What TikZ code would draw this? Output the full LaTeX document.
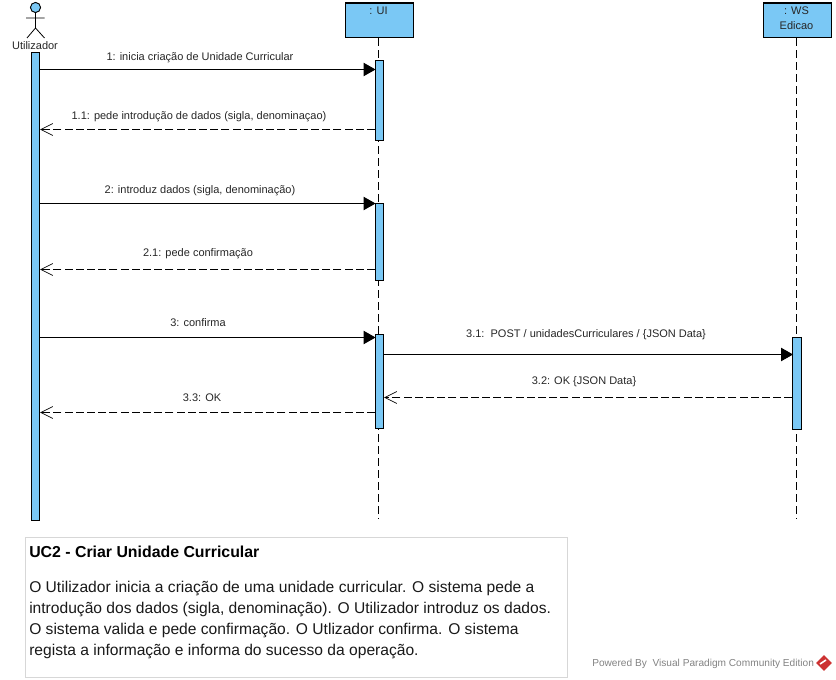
\documentclass[tikz,border=0pt]{standalone}
\usepackage{fontspec}
\setmainfont{Liberation Sans}
\usetikzlibrary{arrows.meta,shapes.geometric}
\definecolor{lifeblue}{RGB}{122,200,245}
\definecolor{panelgrey}{RGB}{215,215,215}
\definecolor{footgrey}{RGB}{130,130,130}
\definecolor{footred}{RGB}{205,50,50}
\tikzset{
  objbox/.style={draw, fill=lifeblue, line width=0.8pt, minimum width=51pt, minimum height=26pt, inner sep=0pt, anchor=north west},
  actbar/.style={draw, fill=lifeblue, line width=0.7pt, minimum width=6.2pt, inner sep=0pt, anchor=north},
  lifeline/.style={line width=0.7pt, dash pattern=on 6pt off 3pt},
  callmsg/.style={line width=0.75pt, -{Triangle[length=9pt,width=10pt]}, shorten >=-0.5pt},
  backmsg/.style={line width=0.7pt, dash pattern=on 6pt off 2.4pt, -{Straight Barb[length=9pt,width=9pt,line width=0.5pt]}},
  msglabel/.style={font=\fontsize{8.25}{10}\selectfont, text=black!85, inner sep=0pt},
  bodyline/.style={font=\fontsize{11.7}{14}\selectfont, anchor=west, inner sep=0pt, text=black!90}
}
\begin{document}
\begin{tikzpicture}[x=0.75pt, y=-0.75pt]
    \useasboundingbox (0,0) rectangle (836,680);
    % lifelines
    \node (ui) [objbox] at (345,2.5) {};
    \node (ws) [objbox] at (763,2.5) {};
    \coordinate (uiend) at (378.5,519);
    \coordinate (wsend) at (796.5,519);
    \draw[lifeline] (ui.south -| uiend) -- (uiend);
    \draw[lifeline] (ws.south -| wsend) -- (wsend);
    \node (uitxt) [msglabel] at (378.5,10.5) {: UI};
    \node (wstxt) [msglabel] at (796.5,10.5) {: WS};
    \node (wstxt2) [msglabel] at (796.5,25.5) {Edicao};
    % actor
    \node (head) [circle, draw, fill=lifeblue, line width=0.7pt, minimum size=7.6pt, inner sep=0pt] at (35.5,7.5) {};
    \coordinate (hip) at (35.5,28);
    \coordinate (arml) at (26,18);
    \coordinate (armr) at (44.5,18);
    \coordinate (legl) at (27,38);
    \coordinate (legr) at (44.5,38);
    \draw[line width=0.6pt] (head.south) -- (hip) (arml) -- (armr) (legl) -- (hip) -- (legr);
    \node (actor) [msglabel] at (35,45.5) {Utilizador};
    % activation bars
    \node (userbar) [actbar, minimum height=350.5pt] at (35.5,52.5) {};
    \node (uibar1) [actbar, minimum height=60pt] at (379.5,60.5) {};
    \node (uibar2) [actbar, minimum height=57.5pt] at (379.5,203.5) {};
    \node (uibar3) [actbar, minimum height=70.5pt] at (379.5,334.5) {};
    \node (wsbar) [actbar, minimum height=69pt] at (797,337.5) {};
    % messages
    \coordinate (m1) at (0,69.5);
    \coordinate (m11) at (0,129.5);
    \coordinate (m2) at (0,203.5);
    \coordinate (m21) at (0,269.5);
    \coordinate (m3) at (0,337.5);
    \coordinate (m31) at (0,354.5);
    \coordinate (m32) at (0,397.5);
    \coordinate (m33) at (0,412.5);
    \draw[callmsg] (userbar.east |- m1) -- (uibar1.west |- m1);
    \draw[backmsg] (uibar1.west |- m11) -- (userbar.east |- m11);
    \draw[callmsg] (userbar.east |- m2) -- (uibar2.west |- m2);
    \draw[backmsg] (uibar2.west |- m21) -- (userbar.east |- m21);
    \draw[callmsg] (userbar.east |- m3) -- (uibar3.west |- m3);
    \draw[callmsg] (uibar3.east |- m31) -- (wsbar.west |- m31);
    \draw[backmsg] (wsbar.west |- m32) -- (uibar3.east |- m32);
    \draw[backmsg] (uibar3.west |- m33) -- (userbar.east |- m33);
    \node (l1) [msglabel] at (200,58) {1: inicia criação de Unidade Curricular};
    \node (l11) [msglabel] at (199,117) {1.1: pede introdução de dados (sigla, denominaçao)};
    \node (l2) [msglabel] at (200,191) {2: introduz dados (sigla, denominação)};
    \node (l21) [msglabel] at (198,254) {2.1: pede confirmação};
    \node (l3) [msglabel] at (198,323) {3: confirma};
    \node (l31) [msglabel] at (586,335) {3.1:\ \ POST / unidadesCurriculares / \{JSON Data\}};
    \node (l32) [msglabel] at (584,382) {3.2: OK \{JSON Data\}};
    \node (l33) [msglabel] at (202,398) {3.3: OK};
    % description
    \node (panel) [draw=panelgrey, line width=0.7pt, minimum width=406.5pt, minimum height=105pt, inner sep=0pt, anchor=north west] at (25,537) {};
    \node (title) [bodyline, font=\fontsize{11.9}{14}\selectfont\bfseries, text=black] at (29,552) {UC2 - Criar Unidade Curricular};
    \node (b1) [bodyline] at (29,589) {O Utilizador inicia a criação de uma unidade curricular. O sistema pede a};
    \node (b2) [bodyline] at (29,609.5) {introdução dos dados (sigla, denominação). O Utilizador introduz os dados.};
    \node (b3) [bodyline] at (29,631) {O sistema valida e pede confirmação. O Utlizador confirma. O sistema};
    \node (b4) [bodyline] at (29,651.5) {regista a informação e informa do sucesso da operação.};
    % footer
    \node (foot) [msglabel, font=\fontsize{7.6}{10}\selectfont, text=footgrey, anchor=west] at (592,663.5) {Powered By\ \ Visual Paradigm Community Edition};
    \node (logo) [diamond, fill=footred, minimum size=12pt, inner sep=0pt] at (824,663) {};
    \coordinate (logoa) at (820,664);
    \coordinate (logob) at (826,660);
    \draw[white, line width=1.2pt] (logoa) -- (logob);
\end{tikzpicture}
\end{document}
